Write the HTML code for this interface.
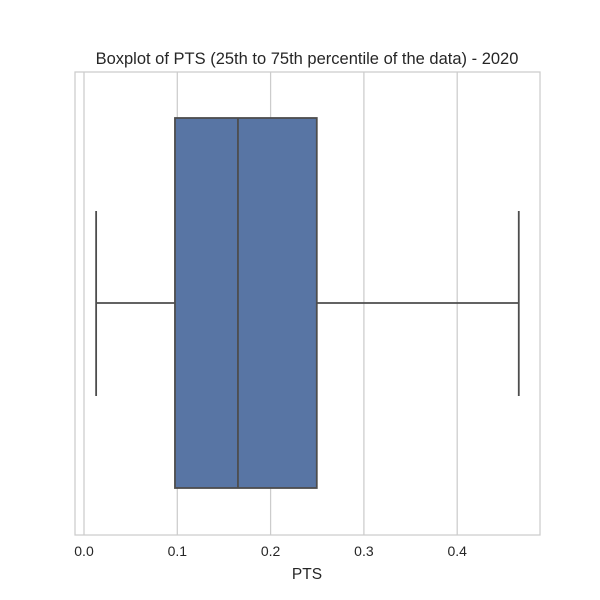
<!DOCTYPE html>
<html>
<head>
<meta charset="utf-8">
<style>
  html, body { margin: 0; padding: 0; background: #ffffff; }
  svg { display: block; font-family: "Liberation Sans", "DejaVu Sans", sans-serif; }
</style>
</head>
<body>
<svg id="chart" width="600" height="600" viewBox="0 0 600 600">
  <rect x="0" y="0" width="600" height="600" fill="#ffffff"/>
  <g id="grid"></g>
  <rect x="75" y="72" width="465" height="463" fill="none" stroke="#cccccc" stroke-width="1.25"/>
  <g id="box"></g>
  <g id="ticks"></g>
  <text x="307" y="64" text-anchor="middle" font-size="16.5" fill="#262626">Boxplot of PTS (25th to 75th percentile of the data) - 2020</text>
  <text x="307" y="579" text-anchor="middle" font-size="15.5" fill="#262626">PTS</text>
</svg>
<script>
const tickValues = [0.0, 0.1, 0.2, 0.3, 0.4];
const tickLabels = ["0.0", "0.1", "0.2", "0.3", "0.4"];
const whiskerLow = [0.013];
const quartile1 = [0.0975];
const medianVal = [0.165];
const quartile3 = [0.2495];
const whiskerHigh = [0.466];

const ns = "http://www.w3.org/2000/svg";
function xScale(v) { return 84 + v * 933; }
function mk(tag, attrs, parent) {
  const el = document.createElementNS(ns, tag);
  for (const k in attrs) el.setAttribute(k, attrs[k]);
  parent.appendChild(el);
  return el;
}
const grid = document.getElementById('grid');
const ticks = document.getElementById('ticks');
tickValues.forEach((v, i) => {
  const x = xScale(v);
  const ln = mk('line', {x1: x, x2: x, y1: 72, y2: 535, stroke: '#cccccc', 'stroke-width': 1.25}, grid);
  
  
  const t = mk('text', {x: x, y: 556, 'text-anchor': 'middle', 'font-size': 14, fill: '#262626'}, ticks);
  t.textContent = tickLabels[i];
  
  
});
const box = document.getElementById('box');
const c = '#4d4d4d';
const yTop = 118, yBot = 488, yMid = 303, capTop = 211, capBot = 396;
const wl = xScale(whiskerLow[0]), q1 = xScale(quartile1[0]), md = xScale(medianVal[0]), q3 = xScale(quartile3[0]), wh = xScale(whiskerHigh[0]);
let e;
e = mk('line', {x1: wl, x2: q1, y1: yMid, y2: yMid, stroke: c, 'stroke-width': 1.8}, box);


e = mk('line', {x1: q3, x2: wh, y1: yMid, y2: yMid, stroke: c, 'stroke-width': 1.8}, box);


e = mk('line', {x1: wl, x2: wl, y1: capTop, y2: capBot, stroke: c, 'stroke-width': 1.8}, box);


e = mk('line', {x1: wh, x2: wh, y1: capTop, y2: capBot, stroke: c, 'stroke-width': 1.8}, box);


e = mk('rect', {x: q1, y: yTop, width: q3 - q1, height: yBot - yTop, fill: '#5875a4', stroke: c, 'stroke-width': 1.8}, box);


e = mk('line', {x1: md, x2: md, y1: yTop, y2: yBot, stroke: c, 'stroke-width': 1.8}, box);


</script>
</body>
</html>
